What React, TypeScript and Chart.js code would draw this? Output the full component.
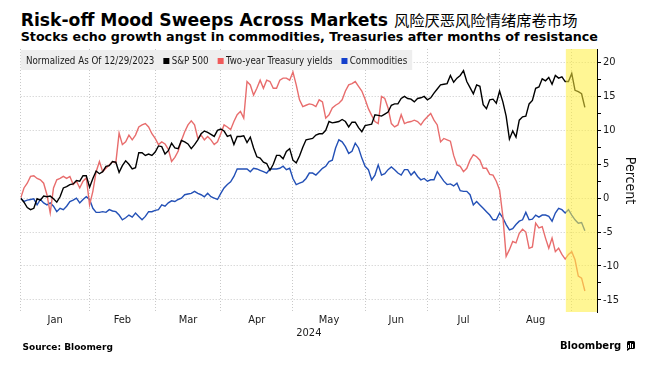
import React, { useEffect, useRef } from 'react';
import { Chart, registerables } from 'chart.js';

Chart.register(...registerables);

// ---------- data ----------
const monthLabels = ['Jan', 'Feb', 'Mar', 'Apr', 'May', 'Jun', 'Jul', 'Aug'];
// trading days in each month (index 0 = 12/29/2023 base day)
const tradingDaysPerMonth = [21, 20, 20, 22, 22, 19, 22, 22];
const yTickValues = [-15, -12.5, -10, -7.5, -5, -2.5, 0, 2.5, 5, 7.5, 10, 12.5, 15, 17.5, 20];
const seriesNames = ['S&P 500', 'Two-year Treasury yields', 'Commodities'];
const LEGEND_TITLE = 'Normalized As Of 12/29/2023';
const X_TITLE = '2024';
const Y_TITLE = 'Percent';

// % change since 12/29/2023, one value per trading day
const spx = [
  0,
  -0.6, -1.4, -1.7, -1.5, -0.1, -0.3, 0.3, 0.2, 0.3, -0.1, -0.6, 0.2, 1.5, 1.7, 2.0, 2.1, 2.6, 2.5, 3.3, 3.3, 1.6,
  2.9, 4.0, 3.6, 3.9, 4.7, 4.8, 5.4, 5.3, 3.8, 4.8, 5.5, 5.0, 4.3, 4.5, 6.7, 6.7, 6.3, 6.5, 6.3, 6.8,
  7.7, 7.6, 6.5, 7.0, 8.1, 7.4, 7.3, 8.5, 8.3, 8.0, 7.3, 7.9, 8.6, 9.5, 9.9, 9.7, 9.4, 9.1, 10.0, 10.2,
  9.9, 9.1, 9.3, 7.9, 9.1, 9.1, 9.2, 8.2, 9.0, 7.4, 6.1, 5.9, 5.3, 5.1, 4.1, 5.0, 6.3, 6.3, 5.8, 6.9, 7.3, 5.6,
  5.2, 6.2, 7.5, 8.6, 8.7, 8.8, 9.3, 9.5, 9.5, 10.0, 11.3, 11.1, 11.2, 11.3, 11.6, 11.3, 10.5, 11.2, 11.2, 10.4, 9.8, 10.7,
  10.8, 10.9, 12.3, 12.2, 12.1, 12.4, 12.7, 13.7, 13.9, 13.9, 14.7, 15.0, 14.7, 14.6, 14.2, 14.7, 14.8, 15.0, 14.5,
  14.8, 15.5, 16.1, 16.7, 16.8, 16.9, 18.1, 17.1, 17.7, 18.1, 18.8, 17.2, 16.3, 15.4, 16.7, 16.5, 13.8, 13.2, 14.5, 14.6, 14.0, 15.8,
  14.2, 12.1, 8.7, 9.9, 9.0, 11.5, 12.0, 12.1, 13.9, 14.4, 16.2, 16.4, 17.6, 17.3, 17.8, 16.8, 18.1, 17.7, 17.9, 17.2, 17.2, 18.4,
  15.9, 15.7, 15.4, 13.4,
];

const twoYear = [
  0,
  1.5, 2.2, 3.2, 3.3, 2.9, 2.7, 2.2, 0.5, -2.2, 1.5, 2.7, 2.9, 3.2, 2.9, 3.2, 2.0, 2.5, 1.5, 2.5, 3.0, -1.0,
  1.0, 3.9, 5.4, 3.9, 4.4, 4.9, 5.4, 5.2, 9.6, 7.9, 8.3, 9.3, 8.6, 9.3, 10.5, 10.8, 11.0, 10.5, 9.5, 8.8,
  7.9, 8.3, 8.0, 7.2, 5.4, 6.0, 6.9, 8.5, 9.8, 10.8, 11.4, 10.8, 8.8, 9.3, 8.6, 9.1, 8.6, 7.9, 8.3, 9.5,
  10.8, 10.5, 10.1, 11.3, 12.3, 12.8, 11.8, 17.2, 16.7, 15.2, 16.2, 17.4, 16.2, 17.4, 17.2, 16.2, 16.2, 17.4, 17.7, 17.7, 17.4, 18.6,
  16.7, 14.5, 13.5, 13.7, 13.9, 13.8, 13.5, 14.5, 14.2, 11.8, 12.3, 13.3, 13.7, 14.0, 14.5, 15.8, 16.7, 16.9, 17.2, 16.5, 15.8, 14.6,
  13.2, 12.2, 11.3, 11.0, 15.0, 14.7, 13.3, 11.0, 10.5, 10.8, 12.3, 11.0, 11.2, 11.3, 11.5, 11.3, 10.8, 11.5, 12.0,
  12.5, 11.5, 10.8, 8.3, 8.8, 8.6, 8.4, 6.3, 4.9, 4.7, 3.9, 4.4, 5.6, 6.4, 6.1, 5.6, 4.4, 4.4, 3.5, 3.4, 2.5, 1.2,
  -2.7, -8.6, -7.6, -6.4, -6.6, -5.2, -4.6, -5.0, -7.4, -7.2, -3.7, -4.4, -4.2, -5.9, -7.4, -5.9, -7.9, -7.4, -8.3, -9.0, -8.3, -7.9,
  -9.1, -11.5, -11.8, -13.7,
];

const commodities = [
  0,
  -0.5, -0.3, -0.2, -0.1, -1.0, -0.2, -0.7, -1.0, -0.7, -1.2, -2.0, -1.5, -1.7, -1.2, -0.5, -0.3, 0.0, -0.7, -0.2, 0.2, -0.2,
  -1.5, -2.1, -2.1, -2.0, -2.1, -1.7, -1.9, -2.0, -2.5, -3.2, -2.9, -2.5, -2.8, -2.2, -2.7, -3.2, -2.7, -2.0, -2.0, -1.8,
  -1.7, -1.0, -1.2, -0.7, -0.4, -0.5, -0.2, 0.0, 0.5, 0.6, 0.7, 1.0, 0.7, 0.5, 0.2, 0.7, 0.2, 0.0, -0.2, 0.7,
  1.5, 2.0, 2.4, 3.2, 4.3, 4.3, 4.3, 4.3, 3.9, 4.4, 4.3, 4.1, 3.9, 3.7, 4.3, 4.3, 4.3, 4.4, 4.7, 4.2, 4.4, 2.9,
  2.0, 2.2, 2.4, 2.9, 3.7, 3.7, 3.4, 3.9, 4.4, 4.7, 5.4, 5.6, 7.4, 8.6, 8.3, 7.6, 6.6, 6.9, 8.1, 7.4, 5.9, 4.7,
  4.2, 2.7, 3.4, 4.9, 3.4, 3.6, 4.2, 4.6, 4.2, 3.7, 3.4, 4.2, 4.2, 3.4, 3.9, 3.2, 2.7, 2.9, 2.5,
  2.7, 2.7, 3.9, 3.2, 2.5, 2.0, 2.1, 1.8, 2.2, 1.1, 1.0, 1.0, 0.5, -1.0, -0.5, -1.0, -1.5, -2.0, -2.5, -3.2, -3.2, -2.2,
  -2.9, -3.9, -4.7, -4.5, -3.9, -3.4, -3.2, -2.1, -3.2, -3.1, -2.5, -2.8, -2.5, -2.5, -2.7, -3.4, -2.2, -1.5, -1.7, -2.2, -1.7, -2.5,
  -3.2, -3.7, -3.6, -4.8,
];

// ---------- styling ----------
const FONT = '"DejaVu Sans Condensed", "Liberation Sans", Arial, sans-serif';
const GRID = '#c9c9c9';
const lineColors = ['#000000', '#e86d6d', '#2350b6'];
const legendColors = ['#000000', '#f05a5a', '#1440cc'];
const X_MAX = 175.7;
const Y_MIN = -16.8;
const Y_MAX = 22;
const HIGHLIGHT_START = 166.2;

// month boundaries and label positions derived from trading-day counts
const boundaries: number[] = [0];
const mids: number[] = [];
{
  let acc = 0;
  tradingDaysPerMonth.forEach((d) => {
    mids.push(acc + d / 2);
    acc += d;
    boundaries.push(acc);
  });
}
const boundarySet = new Set(boundaries);
const midLabel = new Map<number, string>();
mids.forEach((m, k) => midLabel.set(m, monthLabels[k]));
const xTickValues = [...boundaries, ...mids].sort((a, b) => a - b);

const toPoints = (arr: number[]) => arr.map((v, i) => ({ x: i, y: v }));

const legendPlugin = {
  id: 'bbgLegend',
  beforeDatasetsDraw(chart: any) {
    const { ctx, chartArea } = chart;
    ctx.save();
    ctx.font = `9.7px ${FONT}`;
    const titleW = ctx.measureText(LEGEND_TITLE).width;
    let total = 5.3 + titleW;
    seriesNames.forEach((n) => {
      total += 9 + 8.3 + ctx.measureText(n).width;
    });
    total += 5;
    ctx.fillStyle = '#eeeeee';
    ctx.fillRect(chartArea.left, chartArea.top + 1, total, 20);
    const baseY = chartArea.top + 14.7;
    let x = chartArea.left + 5.3;
    ctx.textBaseline = 'alphabetic';
    ctx.textAlign = 'left';
    ctx.fillStyle = '#1a1a1a';
    ctx.fillText(LEGEND_TITLE, x, baseY);
    x += titleW + 9;
    seriesNames.forEach((n, k) => {
      ctx.fillStyle = legendColors[k];
      ctx.fillRect(x, chartArea.top + 9, 6, 6);
      x += 8.3;
      ctx.fillStyle = '#1a1a1a';
      ctx.fillText(n, x, baseY);
      x += ctx.measureText(n).width + 9;
    });
    ctx.restore();
  },
};

const bandPlugin = {
  id: 'highlightBand',
  afterDatasetsDraw(chart: any) {
    const { ctx, chartArea, scales } = chart;
    const x1 = scales.x.getPixelForValue(HIGHLIGHT_START);
    ctx.save();
    ctx.fillStyle = 'rgba(255, 238, 60, 0.55)';
    ctx.fillRect(x1, chartArea.top, chartArea.right - x1, chartArea.bottom - chartArea.top);
    ctx.restore();
  },
};

export default function App() {
  const canvasRef = useRef<HTMLCanvasElement>(null);

  useEffect(() => {
    const canvas = canvasRef.current;
    if (!canvas) return;
    const seriesData = [spx, twoYear, commodities];
    const chart = new Chart(canvas, {
      type: 'line',
      data: {
        datasets: seriesNames.map((name, k) => ({
          label: name,
          data: toPoints(seriesData[k]),
          borderColor: lineColors[k],
          backgroundColor: lineColors[k],
          borderWidth: 1.4,
          pointRadius: 0,
          tension: 0,
          fill: false,
        })),
      },
      options: {
        responsive: false,
        animation: false,
        devicePixelRatio: 1,
        parsing: false as any,
        layout: { padding: { left: 20.7, right: 0, top: 5, bottom: 0 } },
        plugins: {
          legend: { display: false },
          tooltip: { enabled: false },
        },
        scales: {
          x: {
            type: 'linear',
            min: 0,
            max: X_MAX,
            position: 'bottom',
            afterBuildTicks: (s: any) => {
              s.ticks = xTickValues.map((v) => ({ value: v }));
            },
            afterFit: (s: any) => {
              s.height = 32;
              s.paddingLeft = 0;
              s.paddingRight = 0;
            },
            ticks: {
              autoSkip: false,
              maxRotation: 0,
              minRotation: 0,
              padding: 2,
              color: '#1a1a1a',
              font: { family: FONT, size: 11 },
              callback: (v: any) => midLabel.get(Number(v)) ?? '',
            },
            grid: {
              color: (c: any) => (c.tick && boundarySet.has(c.tick.value) ? GRID : 'transparent'),
              lineWidth: 1,
              drawTicks: false,
            },
            border: { display: false, dash: [1, 2] },
            title: {
              display: true,
              text: X_TITLE,
              color: '#1a1a1a',
              font: { family: FONT, size: 11 },
              padding: { top: 0, bottom: 4.4 },
            },
          },
          y: {
            type: 'linear',
            position: 'right',
            min: Y_MIN,
            max: Y_MAX,
            afterBuildTicks: (s: any) => {
              s.ticks = yTickValues.map((v) => ({ value: v }));
            },
            afterFit: (s: any) => {
              s.width = 58;
              s.paddingTop = 0;
              s.paddingBottom = 0;
            },
            ticks: {
              padding: 2,
              color: '#1a1a1a',
              font: { family: FONT, size: 11 },
              callback: (v: any) => (Number(v) % 5 === 0 ? String(v) : ''),
            },
            grid: {
              color: (c: any) => (c.tick && c.tick.value % 5 === 0 ? GRID : 'transparent'),
              lineWidth: 1,
              tickColor: '#000',
              tickLength: 4,
              drawTicks: true,
            },
            border: { display: true, color: '#000', width: 1, dash: [1, 2] },
            title: {
              display: true,
              text: Y_TITLE,
              color: '#111',
              font: { family: FONT, size: 14 },
              padding: { top: 16.6, bottom: 0 },
            },
          },
        },
      },
      plugins: [legendPlugin, bandPlugin],
    } as any);
    return () => chart.destroy();
  }, []);

  return (
    <div
      style={{
        position: 'fixed',
        left: 0,
        top: 0,
        width: 655,
        height: 367,
        background: '#fff',
        overflow: 'hidden',
        color: '#000',
      }}
    >
      <div
        style={{
          position: 'absolute',
          left: 20.7,
          top: 9.6,
          whiteSpace: 'nowrap',
          fontFamily: '"DejaVu Sans", sans-serif',
          fontWeight: 700,
          fontSize: 17.2,
          lineHeight: '20px',
        }}
      >
        Risk-off Mood Sweeps Across Markets{' '}
        <span
          style={{
            fontFamily: '"Noto Sans CJK SC", sans-serif',
            fontWeight: 400,
            fontSize: 15.3,
            lineHeight: '16px',
          }}
        >
          风险厌恶风险情绪席卷市场
        </span>
      </div>
      <div
        style={{
          position: 'absolute',
          left: 20.7,
          top: 29.6,
          whiteSpace: 'nowrap',
          fontFamily: '"DejaVu Sans", sans-serif',
          fontWeight: 700,
          fontSize: 12.7,
          lineHeight: '14px',
        }}
      >
        Stocks echo growth angst in commodities, Treasuries after months of resistance
      </div>
      <div style={{ position: 'absolute', left: 0, top: 44, width: 655, height: 300 }}>
        <canvas ref={canvasRef} width={655} height={300} style={{ display: 'block', width: 655, height: 300 }} />
      </div>
      <div
        style={{
          position: 'absolute',
          left: 22.5,
          top: 342,
          whiteSpace: 'nowrap',
          fontFamily: '"DejaVu Sans", sans-serif',
          fontWeight: 700,
          fontSize: 9,
          lineHeight: '11px',
        }}
      >
        Source: Bloomerg
      </div>
      <div
        style={{
          position: 'absolute',
          left: 560,
          top: 339.8,
          whiteSpace: 'nowrap',
          fontFamily: '"DejaVu Sans", sans-serif',
          fontWeight: 700,
          fontSize: 10,
          lineHeight: '12px',
        }}
      >
        Bloomberg
      </div>
      <div
        style={{
          position: 'absolute',
          left: 626.5,
          top: 341,
          width: 8,
          height: 8,
          background: '#000',
          borderRadius: 1.5,
        }}
      >
        <div style={{ position: 'absolute', left: 1.5, top: 4, width: 1, height: 3, background: '#fff' }} />
        <div style={{ position: 'absolute', left: 3.5, top: 2, width: 1, height: 5, background: '#fff' }} />
        <div style={{ position: 'absolute', left: 5.5, top: 3, width: 1, height: 4, background: '#fff' }} />
        <div
          style={{
            position: 'absolute',
            left: 0,
            top: 8,
            width: 0,
            height: 0,
            borderLeft: '3px solid #000',
            borderBottom: '2px solid transparent',
          }}
        />
      </div>
    </div>
  );
}
